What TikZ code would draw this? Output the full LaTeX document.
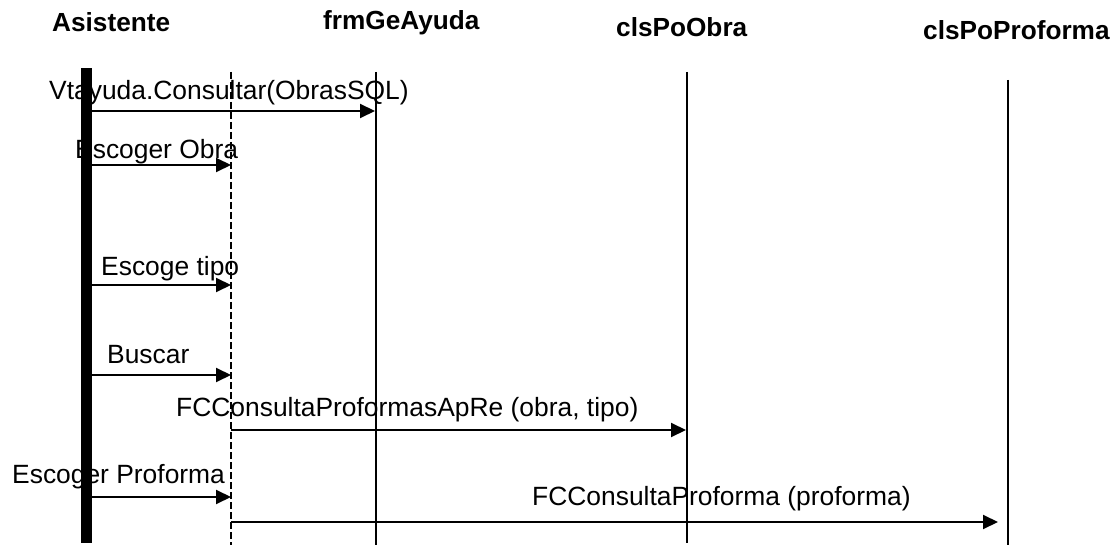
\documentclass[tikz,border=0pt]{standalone}
\usepackage{fontspec}
\setmainfont{Liberation Sans}
\usetikzlibrary{arrows.meta}
\tikzset{
  lbl/.style={inner sep=0pt, anchor=base west, font=\fontsize{26.4}{30}\selectfont},
  head/.style={inner sep=0pt, anchor=base west, font=\fontsize{26.2}{30}\selectfont\bfseries},
  life/.style={line width=2pt},
  dashlife/.style={line width=2pt, dash pattern=on 7pt off 3pt},
  msg/.style={line width=2pt, -{Triangle[length=15pt,width=14pt]}},
  plainmsg/.style={line width=2pt}
}
\begin{document}
\begin{tikzpicture}[x=1pt,y=-1pt]
\useasboundingbox (0,0) rectangle (1119,545);
% headers
\node[head] (hA) at (52,32) {Asistente};
\node[head] (hF) at (323,30) {frmGeAyuda};
\node[head] (hO) at (616,37) {clsPoObra};
\node[head] (hP) at (923,40) {clsPoProforma};
% lifelines
\coordinate (aT) at (86.5,68); \coordinate (aB) at (86.5,543);
\fill (81,68) rectangle (92,543);
\coordinate (dT) at (231,72); \coordinate (dB) at (231,545);
\draw[dashlife] (dT) -- (dB);
\coordinate (fT) at (375.5,72); \coordinate (fB) at (375.5,545);
\draw[life] (fT) -- (fB);
\coordinate (oT) at (686.5,72); \coordinate (oB) at (686.5,543);
\draw[life] (oT) -- (oB);
\coordinate (pT) at (1007.5,80); \coordinate (pB) at (1007.5,545);
\draw[life] (pT) -- (pB);
% messages
\coordinate (m1s) at (92,111); \coordinate (m1e) at (375,111);
\draw[msg] (m1s) -- (m1e);
\node[lbl] (t1) at (49,100) {Vtayuda.Consultar(ObrasSQL)};

\coordinate (m2s) at (92,165); \coordinate (m2e) at (231,165);
\draw[msg] (m2s) -- (m2e);
\node[lbl] (t2) at (75,159) {Escoger Obra};

\coordinate (m3s) at (92,285); \coordinate (m3e) at (231,285);
\draw[msg] (m3s) -- (m3e);
\node[lbl] (t3) at (101,276) {Escoge tipo};

\coordinate (m4s) at (92,375); \coordinate (m4e) at (231,375);
\draw[msg] (m4s) -- (m4e);
\node[lbl] (t4) at (107,363) {Buscar};

\coordinate (m5s) at (231,430); \coordinate (m5e) at (686,430);
\draw[msg] (m5s) -- (m5e);
\node[lbl] (t5) at (176,416) {FCConsultaProformasApRe (obra, tipo)};

\coordinate (m6s) at (92,497); \coordinate (m6e) at (231,497);
\draw[msg] (m6s) -- (m6e);
\node[lbl] (t6) at (12,483) {Escoger Proforma};

\coordinate (m7s) at (231,522); \coordinate (m7e) at (998,522);
\draw[msg] (m7s) -- (m7e);
\node[lbl] (t7) at (532,505) {FCConsultaProforma (proforma)};
\end{tikzpicture}
\end{document}
